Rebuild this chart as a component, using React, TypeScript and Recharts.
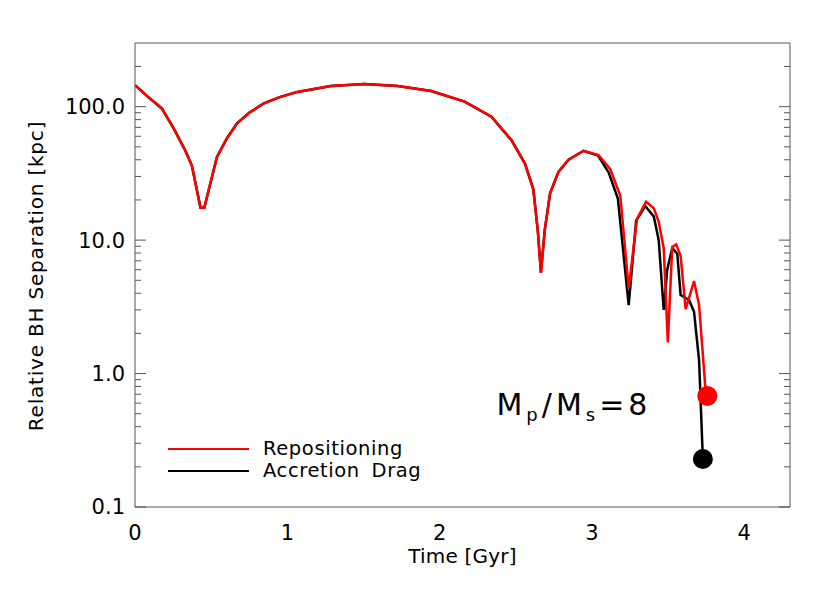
import { ComposedChart, Line, Scatter, XAxis, YAxis, Legend, ReferenceDot } from "recharts";

// time [Gyr] and separation [kpc] where both runs overlap
const SHARED_TIME = [0, 0.08, 0.176, 0.253, 0.33, 0.374, 0.43, 0.455, 0.538, 0.604, 0.67, 0.75, 0.846, 0.95, 1.066, 1.285, 1.505, 1.725, 1.945, 2.164, 2.34, 2.472, 2.56, 2.615, 2.644, 2.665, 2.69, 2.725, 2.78, 2.846, 2.945];
const SHARED_SEP = [145, 120, 97, 69, 47, 36, 17.5, 17.5, 42, 58, 75, 90, 106, 118, 129, 143, 147.6, 143, 131, 109, 84, 56, 37.5, 24, 11.9, 5.7, 11.9, 22.4, 32.5, 40, 46.7];

// repositioning run after the split
const REPO_TIME = [3.043, 3.12, 3.186, 3.241, 3.296, 3.355, 3.406, 3.438, 3.471, 3.498, 3.527, 3.553, 3.582, 3.615, 3.67, 3.703, 3.744, 3.757];
const REPO_SEP = [43.4, 34, 21.5, 4.35, 14.5, 19.4, 17.3, 13.7, 8.7, 1.71, 8.9, 9.3, 7.6, 3.04, 4.93, 3.26, 0.8, 0.68];

// accretion drag run after the split
const DRAG_TIME = [3.04, 3.11, 3.17, 3.241, 3.29, 3.35, 3.406, 3.438, 3.471, 3.494, 3.527, 3.56, 3.582, 3.637, 3.67, 3.703, 3.728];
const DRAG_SEP = [43, 32, 20.5, 3.26, 14, 18, 15, 10, 3.0, 6.0, 8.7, 7.9, 3.88, 3.56, 2.9, 1.26, 0.229];

// final merger points
const REPO_END = [{ t: 3.757, v: 0.68 }];
const DRAG_END = [{ t: 3.728, v: 0.229 }];

const X_TICKS = [0, 1, 2, 3, 4];
const X_ALL = Array.from({ length: 44 }, (_, i) => i / 10);
const Y_TICKS = [0.1, 1, 10, 100];
const Y_ALL = [0.1, 0.2, 0.3, 0.4, 0.5, 0.6, 0.7, 0.8, 0.9, 1, 2, 3, 4, 5, 6, 7, 8, 9, 10, 20, 30, 40, 50, 60, 70, 80, 90, 100, 200];
const LEGEND_ORDER = ["Repositioning", "Accretion Drag"];

const GRAY = "#555";
const FONT = "'DejaVu Sans', sans-serif";
const X_DOMAIN: [number, number] = [0, 4.3];
const Y_DOMAIN: [number, number] = [0.1, 300];
const MAJOR_LEN = 11;
const MINOR_LEN = 6;

const toRows = (ts: number[], vs: number[]) => ts.map((t, i) => ({ t, v: vs[i] }));
const tickStyle = { fontSize: 21, fill: "#000", fontFamily: FONT };

const isMajorX = (v: number) => Math.abs(v - Math.round(v)) < 1e-6;
const isMajorY = (v: number) => Y_TICKS.includes(v);

// inward tick marks, drawn from the plot edge into the plot
function inwardTick(side: "bottom" | "top" | "left" | "right") {
  return (props: any) => {
    const { x, y, payload } = props;
    const v = payload.value;
    const horiz = side === "bottom" || side === "top";
    const len = (horiz ? isMajorX(v) : isMajorY(v)) ? MAJOR_LEN : MINOR_LEN;
    const dx = side === "left" ? len : side === "right" ? -len : 0;
    const dy = side === "top" ? len : side === "bottom" ? -len : 0;
    return <line x1={x} y1={y} x2={x + dx} y2={y + dy} stroke={GRAY} strokeWidth={1} />;
  };
}

function MassRatio(props: any) {
  const { x, y } = props.viewBox;
  return (
    <text x={x} y={y} fontFamily={FONT} fontSize={30} letterSpacing={4} fill="#000">
      M<tspan fontSize={18} dy={6}>p</tspan>
      <tspan fontSize={30} dy={-6}>/M</tspan>
      <tspan fontSize={18} dy={6}>s</tspan>
      <tspan fontSize={30} dy={-6}>=8</tspan>
    </text>
  );
}

function LegendBox({ payload }: any) {
  const items = [...(payload || [])].sort(
    (a: any, b: any) => LEGEND_ORDER.indexOf(a.value) - LEGEND_ORDER.indexOf(b.value)
  );
  return (
    <div style={{ fontFamily: FONT, fontSize: 19.5, lineHeight: "22px", color: "#000" }}>
      {items.map((p: any) => (
        <div key={p.value} style={{ display: "flex", alignItems: "center", height: 22, wordSpacing: 5, letterSpacing: 0.6 }}>
          <div style={{ width: 81, height: 0, borderTop: `2px solid ${p.color}`, marginRight: 14 }} />
          <span>{p.value}</span>
        </div>
      ))}
    </div>
  );
}

export default function App() {
  const repo = toRows([...SHARED_TIME, ...REPO_TIME], [...SHARED_SEP, ...REPO_SEP]);
  const drag = toRows([...SHARED_TIME, ...DRAG_TIME], [...SHARED_SEP, ...DRAG_SEP]);

  return (
    <div style={{ position: "absolute", left: 0, top: 0, width: 830, height: 593, background: "#fff" }}>
      <ComposedChart width={830} height={593} margin={{ top: 43, right: 40, bottom: 16, left: 75 }}>
        <XAxis
          xAxisId="x" type="number" dataKey="t" domain={X_DOMAIN} allowDataOverflow
          ticks={X_TICKS} interval={0} tickLine={false} tickSize={0} tickMargin={18} height={70}
          axisLine={{ stroke: GRAY }} tick={tickStyle}
          label={({ viewBox }: any) => (
            <text x={viewBox.x + viewBox.width / 2} y={viewBox.y + 56} textAnchor="middle"
              fontFamily={FONT} fontSize={20} letterSpacing={0.2} fill="#000">
              Time [Gyr]
            </text>
          )}
        />
        <XAxis xAxisId="xIn" type="number" domain={X_DOMAIN} allowDataOverflow ticks={X_ALL} interval={0}
          mirror height={1} tick={inwardTick("bottom")} tickSize={0} tickMargin={0} tickLine={false} axisLine={false} />
        <XAxis xAxisId="xTop" orientation="top" type="number" domain={X_DOMAIN} allowDataOverflow ticks={X_ALL}
          interval={0} mirror height={1} tick={inwardTick("top")} tickSize={0} tickMargin={0} tickLine={false}
          axisLine={{ stroke: GRAY }} />

        <YAxis
          yAxisId="y" type="number" scale="log" dataKey="v" domain={Y_DOMAIN} allowDataOverflow
          ticks={Y_TICKS} interval={0} tickFormatter={(v: number) => v.toFixed(1)}
          width={60} tickLine={false} tickSize={0} tickMargin={10} axisLine={{ stroke: GRAY }} tick={tickStyle}
          label={({ viewBox }: any) => {
            const cx = viewBox.x - 32;
            const cy = viewBox.y + viewBox.height / 2 + 1;
            return (
              <text x={cx} y={cy} transform={`rotate(-90 ${cx} ${cy})`} textAnchor="middle"
                fontFamily={FONT} fontSize={20} letterSpacing={0.8} fill="#000">
                Relative BH Separation [kpc]
              </text>
            );
          }}
        />
        <YAxis yAxisId="yIn" type="number" scale="log" domain={Y_DOMAIN} allowDataOverflow ticks={Y_ALL} interval={0}
          mirror width={1} tick={inwardTick("left")} tickSize={0} tickMargin={0} tickLine={false} axisLine={false} />
        <YAxis yAxisId="yRight" orientation="right" type="number" scale="log" domain={Y_DOMAIN} allowDataOverflow
          ticks={Y_ALL} interval={0} mirror width={1} tick={inwardTick("right")} tickSize={0} tickMargin={0}
          tickLine={false} axisLine={{ stroke: GRAY }} />

        <Line xAxisId="x" yAxisId="y" data={drag} dataKey="v" name="Accretion Drag" stroke="#000"
          strokeWidth={2.5} dot={false} type="linear" isAnimationActive={false} />
        <Line xAxisId="x" yAxisId="y" data={repo} dataKey="v" name="Repositioning" stroke="#ff0000"
          strokeWidth={2.5} dot={false} type="linear" isAnimationActive={false} />
        <Scatter xAxisId="x" yAxisId="y" data={DRAG_END} legendType="none" isAnimationActive={false}
          shape={(p: any) => <circle cx={p.cx} cy={p.cy} r={10} fill="#000" />} />
        <Scatter xAxisId="x" yAxisId="y" data={REPO_END} legendType="none" isAnimationActive={false}
          shape={(p: any) => <circle cx={p.cx} cy={p.cy} r={10} fill="#ff0000" />} />

        <ReferenceDot xAxisId="x" yAxisId="y" x={2.373} y={0.489} r={0} fill="none" stroke="none"
          label={(props: any) => <MassRatio {...props} />} />

        <Legend layout="vertical" align="center" verticalAlign="middle" content={LegendBox}
          wrapperStyle={{ position: "absolute", left: 168, top: 394, width: 280, margin: 0 }} />
      </ComposedChart>
    </div>
  );
}
